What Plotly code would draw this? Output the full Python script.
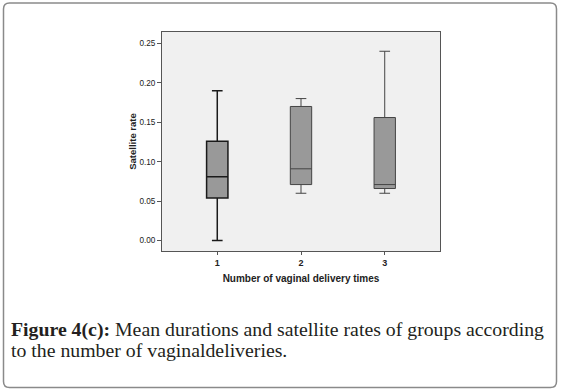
import plotly.graph_objects as go

categories = ["1", "2", "3"]
lower_whisker = [0.00, 0.06, 0.06]
q1_vals = [0.054, 0.071, 0.066]
median_vals = [0.081, 0.091, 0.071]
q3_vals = [0.126, 0.170, 0.156]
upper_whisker = [0.19, 0.18, 0.24]
y_ticks = [0.00, 0.05, 0.10, 0.15, 0.20, 0.25]

line_colors = ["#1a1a1a", "#444444", "#444444"]
line_widths = [1.5, 1.0, 1.0]

W, H = 561, 392
L, R, T, B = 162, 440, 32, 251  # plot area in pixels

def px(x):
    return (x - L) / (R - L)

def py(y):
    return (B - y) / (B - T)

fig = go.Figure()
for i, c in enumerate(categories):
    fig.add_trace(go.Box(
        x=[c], q1=[q1_vals[i]], median=[median_vals[i]], q3=[q3_vals[i]],
        lowerfence=[lower_whisker[i]], upperfence=[upper_whisker[i]],
        fillcolor="#999999",
        line=dict(color=line_colors[i], width=line_widths[i]),
        width=0.255, whiskerwidth=0.5, boxpoints=False,
        showlegend=False, hoverinfo="skip",
    ))

# outer rounded frame
x0, x1, y0, y1 = px(3.5), px(556.5), py(387.5), py(3)
rx = 6 / (R - L)
ry = 6 / (B - T)
path = (f"M {x0+rx},{y1} L {x1-rx},{y1} Q {x1},{y1} {x1},{y1-ry} "
        f"L {x1},{y0+ry} Q {x1},{y0} {x1-rx},{y0} L {x0+rx},{y0} "
        f"Q {x0},{y0} {x0},{y0+ry} L {x0},{y1-ry} Q {x0},{y1} {x0+rx},{y1} Z")
fig.add_shape(type="path", xref="paper", yref="paper", path=path,
              line=dict(color="#8a8a8a", width=1.5), layer="above")

cap_font = dict(family="Liberation Serif", size=19.8, color="#231f20")
fig.add_annotation(
    xref="paper", yref="paper", x=px(9), y=py(329), xanchor="left", yanchor="middle",
    text="<b>Figure 4(c):</b> Mean durations and satellite rates of groups according",
    showarrow=False, font=cap_font,
)
fig.add_annotation(
    xref="paper", yref="paper", x=px(9), y=py(350), xanchor="left", yanchor="middle",
    text="to the number of vaginaldeliveries.",
    showarrow=False, font=cap_font,
)

fig.update_layout(
    width=W, height=H,
    margin=dict(l=L, r=W - R, t=T, b=H - B, pad=0),
    paper_bgcolor="white", plot_bgcolor="#f0f0f0",
    font=dict(family="Liberation Sans, Arial", size=9, color="#222222"),
    xaxis=dict(
        type="category", range=[-0.66, 2.66],
        showline=True, linecolor="#555555", linewidth=1, mirror=True,
        ticks="outside", ticklen=3, tickcolor="#555555",
        tickfont=dict(size=9, family="Liberation Sans, Arial", weight="bold"),
        showgrid=False, zeroline=False,
        title=dict(text="<b>Number of vaginal delivery times</b>",
                   font=dict(size=10, color="#222222"), standoff=8),
    ),
    yaxis=dict(
        range=[-0.0132, 0.2644],
        tickvals=y_ticks, ticktext=[f"{v:.2f}" for v in y_ticks],
        tickfont=dict(size=8.2),
        showline=True, linecolor="#555555", linewidth=1, mirror=True,
        ticks="outside", ticklen=4, tickcolor="#555555",
        showgrid=False, zeroline=False,
        title=dict(text="<b>Satellite rate</b>", font=dict(size=9.5, color="#222222"), standoff=1),
    ),
)

fig.write_html("out.html", config={"displayModeBar": False},
               post_script="document.body.style.margin='0';document.body.style.overflow='hidden';")
